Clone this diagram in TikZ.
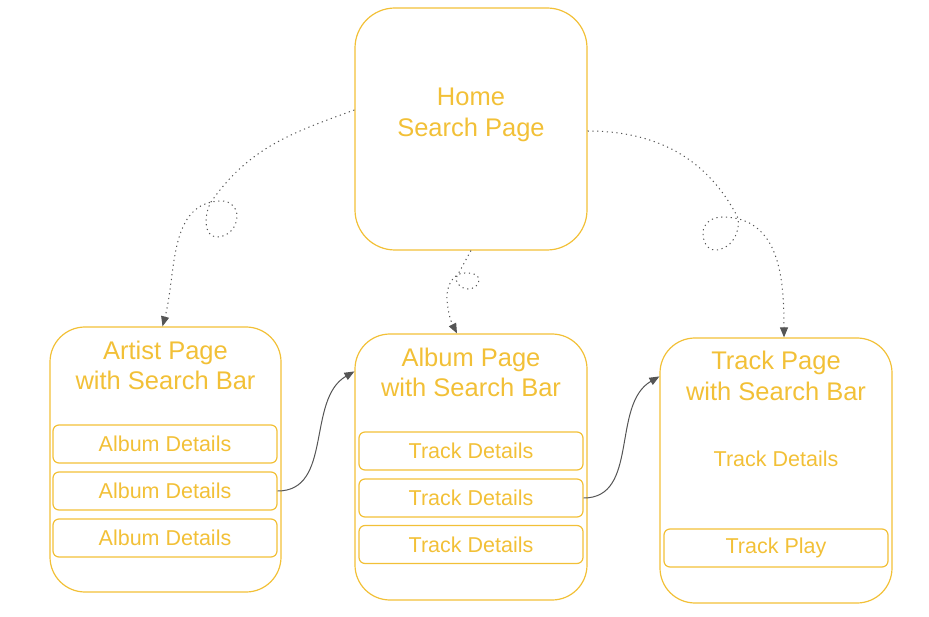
\documentclass[tikz,border=0pt]{standalone}
\usepackage{fontspec}
\setmainfont{Liberation Sans}
\usetikzlibrary{arrows.meta}
\definecolor{mango}{HTML}{F2C037}
\definecolor{wire}{HTML}{555555}
\tikzset{
  page/.style={draw=mango, line width=1.2pt, rounded corners=35pt, minimum width=232pt, minimum height=266pt, inner sep=0pt},
  item/.style={draw=mango, line width=1.2pt, rounded corners=6pt, minimum width=224pt, minimum height=38pt, inner sep=0pt, text=mango, font=\fontsize{21.5}{24}\selectfont},
  title/.style={text=mango, align=center, inner sep=0pt, font=\fontsize{25.5}{30.5}\selectfont},
  link/.style={wire, line width=1pt, -{Triangle[length=10pt,width=8pt]}},
  hop/.style={link, dash pattern=on 1.2pt off 3.6pt}
}
\begin{document}
\begin{tikzpicture}[x=1pt,y=1pt]
    \useasboundingbox (0,0) rectangle (929,-617);
    % home
    \node[page, rounded corners=40pt, minimum height=242pt] (home) at (471,-129) {};
    \node[title] (hometitle) at (471,-115) {Home\\Search Page};
    % artist
    \node[page, minimum width=231pt, minimum height=265pt] (artist) at (165.5,-459.5) {};
    \node[title] (artisttitle) at (165.5,-365.5) {Artist Page\\with Search Bar};
    \node[item] (alb1) at (165,-444) {Album Details};
    \node[item] (alb2) at (165,-491) {Album Details};
    \node[item] (alb3) at (165,-538) {Album Details};
    % album
    \node[page] (album) at (471,-467) {};
    \node[title] (albumtitle) at (471,-372.5) {Album Page\\with Search Bar};
    \node[item] (trk1) at (471,-451) {Track Details};
    \node[item] (trk2) at (471,-498) {Track Details};
    \node[item] (trk3) at (471,-544.5) {Track Details};
    % track
    \node[page, minimum height=265pt] (track) at (776,-470.5) {};
    \node[title] (tracktitle) at (776,-376) {Track Page\\with Search Bar};
    \node[text=mango, inner sep=0pt, font=\fontsize{21.5}{24}\selectfont] (trackinfo) at (776,-459) {Track Details};
    \node[item] (play) at (776,-548) {Track Play};
    % searches from home
    \draw[hop] ([yshift=19pt]home.west) to[out=200,in=55] (211,-202)
      to[out=240,in=180] (217,-237) to[out=0,in=270] (237,-216)
      to[out=90,in=0] (222,-201) to[out=180,in=75] ([xshift=-3pt]artist.north);
    \draw[hop] (home.south) to[out=240,in=60] (457,-276)
      to[out=240,in=180] (468,-289) to[out=0,in=270] (479,-280)
      to[out=90,in=0] (465,-273) to[out=180,in=95] (447,-300)
      to[out=275,in=117] ([xshift=-14pt]album.north);
    \draw[hop] ([yshift=-2pt]home.east) to[out=0,in=117] (738,-218)
      to[out=-80,in=0] (715,-250) to[out=180,in=270] (703,-233)
      to[out=90,in=180] (722,-217) to[out=0,in=90,looseness=1.1] ([xshift=8pt]track.north);
    % drill down
    \draw[link] (alb2.east) to[out=0,in=210] ([yshift=-38pt]album.north west);
    \draw[link] (trk2.east) to[out=0,in=210] ([yshift=-39pt]track.north west);
  \end{tikzpicture}
\end{document}
